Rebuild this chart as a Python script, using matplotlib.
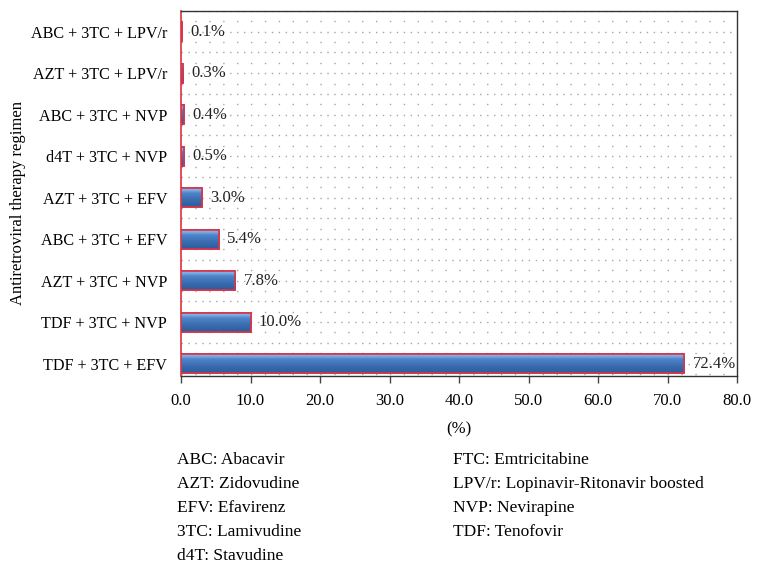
import matplotlib
matplotlib.use("Agg")
import matplotlib.pyplot as plt
import numpy as np
from matplotlib.colors import LinearSegmentedColormap

regimens = ["TDF + 3TC + EFV", "TDF + 3TC + NVP", "AZT + 3TC + NVP", "ABC + 3TC + EFV",
            "AZT + 3TC + EFV", "d4T + 3TC + NVP", "ABC + 3TC + NVP", "AZT + 3TC + LPV/r",
            "ABC + 3TC + LPV/r"]
percents = [72.4, 10.0, 7.8, 5.4, 3.0, 0.5, 0.4, 0.3, 0.1]
x_ticks = [0, 10, 20, 30, 40, 50, 60, 70, 80]
notes_left = ["ABC: Abacavir", "AZT: Zidovudine", "EFV: Efavirenz", "3TC: Lamivudine", "d4T: Stavudine"]
notes_right = ["FTC: Emtricitabine", "LPV/r: Lopinavir-Ritonavir boosted", "NVP: Nevirapine", "TDF: Tenofovir"]

plt.rcParams['font.family'] = ['Liberation Serif', 'DejaVu Serif']
FS = 12

W, H = 783, 563
fig = plt.figure(figsize=(W / 100, H / 100), dpi=100)
ax = fig.add_axes([181 / W, 1 - 376 / H, (737 - 181) / W, (376 - 11) / H])

ax.set_xlim(0, 80)
ax.set_ylim(-0.3, 8.5)

# dotted lattice grid (1 data unit = 5 pt here)
for k, yv in enumerate(np.arange(-0.25, 8.51, 0.25)):
    if k % 2 == 1:
        ls = (0, (1, 4.0))
    else:
        ls = (0, (1, 9.0))
    ax.axhline(yv, color="#a5a5a5", lw=1.0, ls=ls, zorder=0)

y = np.arange(len(regimens))
bh = 0.46
bars = ax.barh(y, percents, height=bh, color="#3d6fb3", edgecolor="#d8344a", lw=1.2, zorder=3)

cmap = LinearSegmentedColormap.from_list(
    "g", [(0, "#2b5c9b"), (0.35, "#3a6cb0"), (0.7, "#4f84c8"), (0.88, "#86b3e6"), (1.0, "#6a9bd8")])
grad = np.linspace(0, 1, 64).reshape(-1, 1)
for b in bars:
    x0, y0 = b.get_x(), b.get_y()
    w, h = b.get_width(), b.get_height()
    im = ax.imshow(grad, cmap=cmap, aspect="auto", origin="lower",
                   extent=(x0, x0 + w, y0, y0 + h), zorder=3.5, interpolation="bilinear")
    im.set_clip_path(b)
    ax.add_patch(plt.Rectangle((x0, y0), w, h, fill=False, edgecolor="#d8344a", lw=1.2, zorder=4))

for yi, v in zip(y, percents):
    ax.annotate(f"{v:.1f}%", (v, yi), xytext=(6, 0), textcoords="offset points",
                va="center", ha="left", fontsize=FS, color="#222222")

ax.set_yticks(y)
ax.set_yticklabels(regimens, fontsize=11.6)
ax.tick_params(axis="y", length=0, pad=10)
ax.set_xticks(x_ticks)
ax.set_xticklabels([f"{t:.1f}" for t in x_ticks], fontsize=FS)
ax.tick_params(axis="x", length=5, width=1, color="#444444", pad=7, direction="out")

for s in ["top", "right", "bottom"]:
    ax.spines[s].set_color("#333333")
    ax.spines[s].set_linewidth(1.0)
ax.spines["left"].set_color("#e0303c")
ax.spines["left"].set_linewidth(1.2)

ax.set_xlabel("(%)", labelpad=9, fontsize=FS)
fig.text(18 / W, 1 - 203 / H, "Antiretroviral therapy regimen", rotation=90,
         va="center", ha="center", fontsize=FS)

for i, t in enumerate(notes_left):
    fig.text(177 / W, 1 - (460 + 24 * i) / H, t, va="center", ha="left", fontsize=12.5)
for i, t in enumerate(notes_right):
    fig.text(453 / W, 1 - (460 + 24 * i) / H, t, va="center", ha="left", fontsize=12.5)

fig.savefig("out.png", dpi=100)
